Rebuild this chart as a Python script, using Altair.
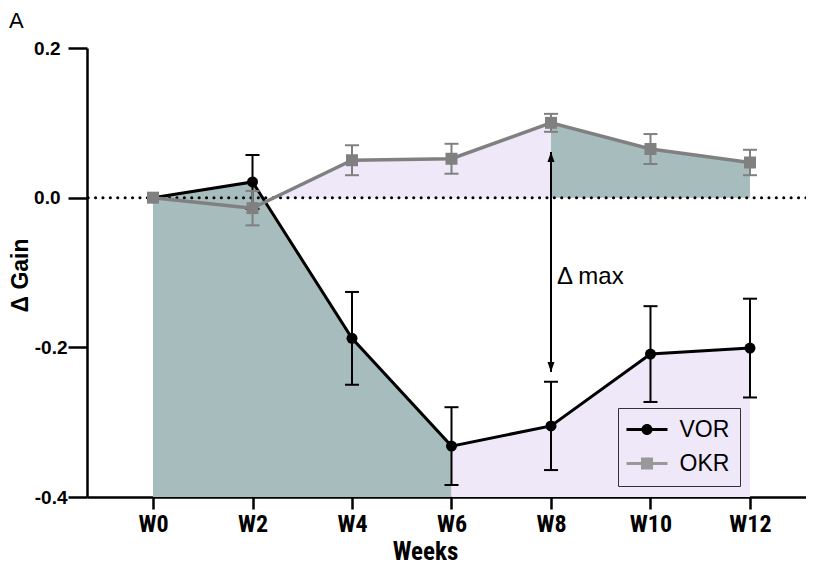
import altair as alt
import pandas as pd

# ---------------- data ----------------
weeks = [0, 2, 4, 6, 8, 10, 12]
week_labels = ["W0", "W2", "W4", "W6", "W8", "W10", "W12"]
vor_mean = [0.0, 0.021, -0.188, -0.332, -0.305, -0.209, -0.201]
vor_sem = [0.0, 0.036, 0.062, 0.052, 0.059, 0.064, 0.066]
okr_mean = [0.0, -0.014, 0.050, 0.052, 0.100, 0.065, 0.047]
okr_sem = [0.0, 0.023, 0.020, 0.020, 0.012, 0.020, 0.017]
series_names = ["VOR", "OKR"]
y_ticks = [-0.4, -0.2, 0.0, 0.2]
y_tick_labels = ["-0.4", "-0.2", "0.0", "0.2"]
delta_week = [8]
delta_top = [0.061]
delta_bottom = [-0.233]
delta_text = ["Δ max"]
delta_text_y = [-0.106]

# ---------------- styles ----------------
TEAL = "#a7bcbc"
LAVENDER = "#eee8f8"
VOR_C = "black"
OKR_C = "#808080"
FONT = "Liberation Sans"
NARROW = "Liberation Sans Narrow, Roboto Condensed, Liberation Sans"


def frame(mean, sem, name):
    return pd.DataFrame({
        "week": weeks,
        "value": mean,
        "lo": [m - s for m, s in zip(mean, sem)],
        "hi": [m + s for m, s in zip(mean, sem)],
        "sem": sem,
        "series": name,
    })


vor_df = frame(vor_mean, vor_sem, "VOR")
okr_df = frame(okr_mean, okr_sem, "OKR")

x_label_expr = " : ".join(
    [f"datum.value == {w} ? '{l}'" for w, l in zip(weeks, week_labels)]) + " : ''"
y_label_expr = " : ".join(
    [f"abs(datum.value - ({v})) < 1e-6 ? '{l}'" for v, l in zip(y_ticks, y_tick_labels)]) + " : ''"

xs = alt.Scale(domain=[-1.327, 13.126], nice=False, zero=False)
ys = alt.Scale(domain=[-0.4, 0.2], nice=False, zero=False)

x_axis = alt.Axis(
    values=weeks, labelExpr=x_label_expr, title="Weeks",
    labelFont=NARROW, labelFontWeight="bold", labelFontSize=24, labelColor="black",
    labelPadding=3, tickSize=12, tickWidth=2.5, tickColor="black",
    domainWidth=2.5, domainColor="black", grid=False,
    titleFont=NARROW, titleFontWeight="bold", titleFontSize=25, titleColor="black",
    titleX=338, titleY=62, titleBaseline="alphabetic", titleAlign="center",
)
y_axis = alt.Axis(
    values=y_ticks, labelExpr=y_label_expr, title="Δ Gain",
    labelFont=FONT, labelFontWeight="bold", labelFontSize=19, labelColor="black",
    labelPadding={"condition": {"test": "datum.value < 0", "value": 1}, "value": 8},
    tickSize=19, tickWidth=2.5, tickColor="black",
    domainWidth=2.5, domainColor="black", grid=False,
    titleFont=FONT, titleFontWeight="bold", titleFontSize=23, titleColor="black",
    titleAngle=-90, titleX=-66.5, titleY=227, titleBaseline="middle", titleAlign="center",
)

x_enc = alt.X("week:Q", scale=xs, axis=x_axis)


def seg(df, i0, i1):
    return df.iloc[i0:i1 + 1]


def area(df, base, color):
    return alt.Chart(df).mark_area(color=color, opacity=1, interpolate="linear").encode(
        x=x_enc,
        y=alt.Y("value:Q", scale=ys, axis=y_axis),
        y2=alt.datum(base),
    )


okr_area1 = area(seg(okr_df, 0, 4), 0, LAVENDER)
okr_area2 = area(seg(okr_df, 4, 6), 0, TEAL)
vor_area1 = area(seg(vor_df, 0, 3), -0.4, TEAL)
vor_area2 = area(seg(vor_df, 3, 6), -0.4, LAVENDER)

zero_rule = alt.Chart(pd.DataFrame({"z": [0.0]})).mark_rule(
    color="black", strokeWidth=3, strokeDash=[0.1, 7.3], strokeCap="round"
).encode(y=alt.Y("z:Q", scale=ys, axis=y_axis))


def series_layers(df, color, shape, size, lw):
    err_df = df[df["sem"] > 0]
    bars = alt.Chart(err_df).mark_rule(color=color, strokeWidth=2).encode(
        x=x_enc, y=alt.Y("lo:Q", scale=ys, axis=y_axis), y2="hi:Q")
    cap_lo = alt.Chart(err_df).mark_tick(color=color, orient="horizontal", size=14,
                                         thickness=2, opacity=1).encode(
        x=x_enc, y=alt.Y("lo:Q", scale=ys, axis=y_axis))
    cap_hi = alt.Chart(err_df).mark_tick(color=color, orient="horizontal", size=14,
                                         thickness=2, opacity=1).encode(
        x=x_enc, y=alt.Y("hi:Q", scale=ys, axis=y_axis))
    line = alt.Chart(df).mark_line(color=color, strokeWidth=lw).encode(
        x=x_enc, y=alt.Y("value:Q", scale=ys, axis=y_axis))
    pts = alt.Chart(df).mark_point(color=color, filled=True, shape=shape, size=size,
                                   opacity=1).encode(
        x=x_enc, y=alt.Y("value:Q", scale=ys, axis=y_axis))
    return [bars, cap_lo, cap_hi, line, pts]


vor_layers = series_layers(vor_df, VOR_C, "circle", 121, 3)
okr_layers = series_layers(okr_df, OKR_C, "square", 144, 3.5)

# annotation arrow
arrow_df = pd.DataFrame({"week": delta_week, "top": delta_top, "bottom": delta_bottom,
                         "label": delta_text, "ty": delta_text_y})
arrow_rule = alt.Chart(arrow_df).mark_rule(color="black", strokeWidth=2).encode(
    x=x_enc, y=alt.Y("top:Q", scale=ys, axis=y_axis), y2="bottom:Q")
head_up = alt.Chart(arrow_df).mark_point(
    shape="M0,0L0.7,2L-0.7,2Z", filled=True, color="black", size=100, opacity=1
).encode(x=x_enc, y=alt.Y("top:Q", scale=ys, axis=y_axis))
head_down = alt.Chart(arrow_df).mark_point(
    shape="M0,0L0.7,-2L-0.7,-2Z", filled=True, color="black", size=100, opacity=1
).encode(x=x_enc, y=alt.Y("bottom:Q", scale=ys, axis=y_axis))
arrow_text = alt.Chart(arrow_df).mark_text(
    align="left", baseline="middle", dx=6, fontSize=24, font=FONT, color="black"
).encode(x=x_enc, y=alt.Y("ty:Q", scale=ys, axis=y_axis), text="label:N")

# legend (line + marker glyphs)
vor_glyph = ("M-1.864,-0.136H1.864V0.136H-1.864Z "
             "M0.5,0A0.5,0.5 0 1,1 -0.5,0A0.5,0.5 0 1,1 0.5,0Z")
okr_glyph = ("M-1.864,-0.136H1.864V0.136H-1.864Z "
             "M-0.545,-0.545H0.545V0.545H-0.545Z")
leg = alt.Legend(
    title=None, orient="none", legendX=531, legendY=360,
    symbolSize=484, symbolOffset=7.5, symbolStrokeWidth=0,
    labelOffset=21, labelFont=FONT, labelFontSize=23, labelColor="black",
    labelExpr="datum.label + ' '",
    padding=10, rowPadding=10, strokeColor="#333333",
)
legend_layer = alt.Chart(pd.DataFrame({"series": series_names})).mark_point(
    filled=True, opacity=1
).encode(
    color=alt.Color("series:N", scale=alt.Scale(domain=series_names, range=[VOR_C, "#999999"]),
                    legend=leg),
    shape=alt.Shape("series:N", scale=alt.Scale(domain=series_names, range=[vor_glyph, okr_glyph]),
                    legend=leg),
).transform_filter("false")

chart = alt.layer(
    okr_area1, okr_area2, vor_area1, vor_area2, zero_rule,
    *vor_layers, *okr_layers,
    arrow_rule, head_up, head_down, arrow_text,
    legend_layer,
).properties(
    width=719, height=449,
    autosize=alt.AutoSizeParams(type="none"),
    padding={"left": 79, "top": 40, "right": 0, "bottom": 68},
    title=alt.TitleParams("A", anchor="start", frame="group", dx=-78, offset=6,
                          fontSize=22, fontWeight="normal", font=FONT, color="black"),
).configure(background="white").configure_view(stroke=None)

chart.save("out.html", embed_options={"renderer": "svg", "actions": False})
